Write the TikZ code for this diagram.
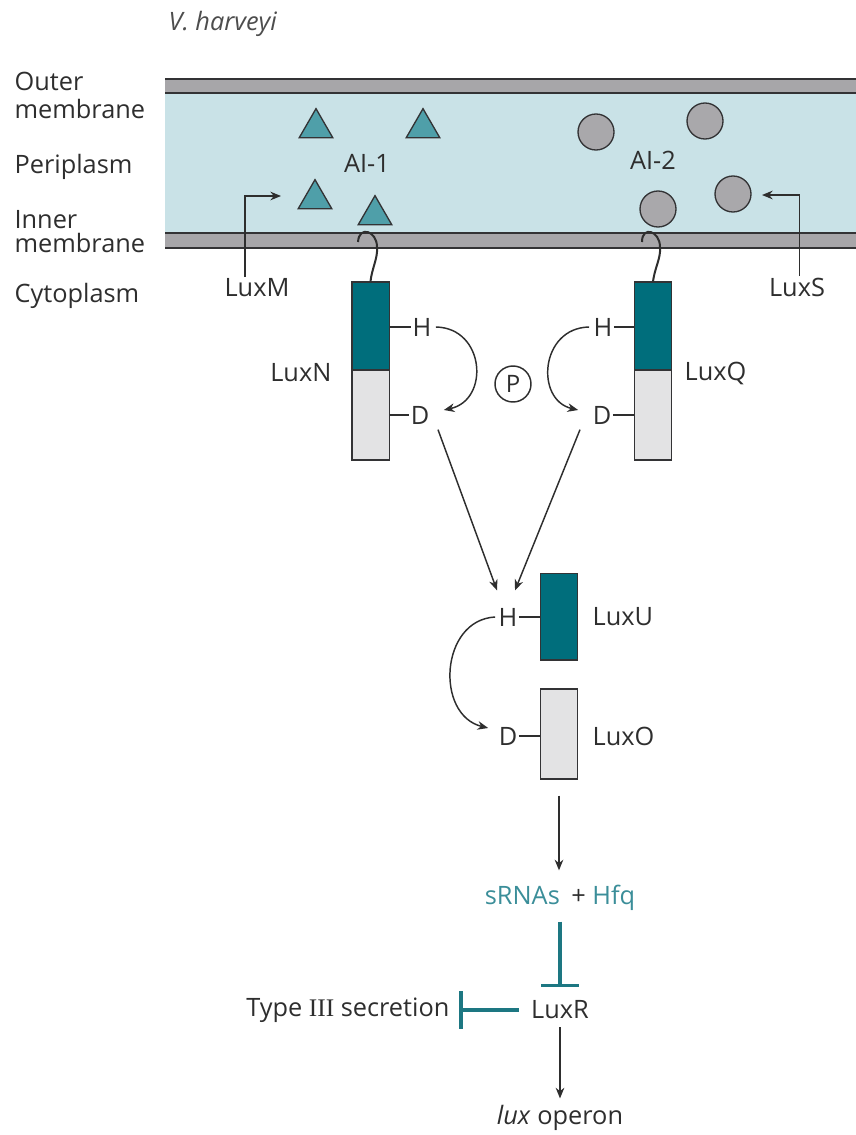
\documentclass[tikz,border=0pt]{standalone}
\usepackage{fontspec}
\setmainfont{Open Sans}
\newfontfamily\serifIII{Liberation Serif}
\usetikzlibrary{arrows.meta,shapes.geometric,calc}
\definecolor{memgray}{HTML}{A7A6A9}
\definecolor{memline}{HTML}{333335}
\definecolor{peri}{HTML}{C9E2E7}
\definecolor{tealbox}{HTML}{006E7C}
\definecolor{trifill}{HTML}{4F9FA9}
\definecolor{circfill}{HTML}{A9A8AB}
\definecolor{boxgray}{HTML}{E3E3E4}
\definecolor{tealtxt}{HTML}{3B8E99}
\definecolor{inhteal}{HTML}{1D7782}
\definecolor{txt}{HTML}{2E2E2E}
\begin{document}
\begin{tikzpicture}[x=0.75pt,y=-0.75pt,
  every node/.style={font=\fontsize{19}{23}\selectfont, text=txt, inner sep=1pt},
  twoline/.style={align=left, anchor=west, font=\fontsize{19}{#1}\selectfont},
  memband/.style={fill=memgray},
  memedge/.style={draw=memline, line width=1.7pt},
  ai1/.style={regular polygon, regular polygon sides=3, draw=memline, fill=trifill, line width=1pt, minimum size=29pt, inner sep=0pt},
  ai2/.style={circle, draw=memline, fill=circfill, line width=1pt, minimum size=27pt, inner sep=0pt},
  protbox/.style={draw=memline, line width=1pt, minimum width=28pt, inner sep=0pt},
  arr/.style={draw=txt, line width=1.1pt, -{Stealth[length=8pt,width=6.5pt]}},
  hookline/.style={draw=txt, line width=1.5pt},
  tick/.style={draw=txt, line width=1.1pt},
  inh/.style={draw=inhteal, line width=2.6pt, -{Bar[width=28pt,line width=2.8pt]}},
]
\useasboundingbox (0,0) rectangle (856,1135);

% membranes
\fill[peri] (165,93) rectangle (857,233);
\fill[memband] (165,79) rectangle (857,93);
\fill[memband] (165,233) rectangle (857,248);
\draw[memedge] (165,79) -- (857,79);
\draw[memedge] (165,93) -- (857,93);
\draw[memedge] (165,233) -- (857,233);
\draw[memedge] (165,248) -- (857,248);

% titles and compartment labels
\node[anchor=base west, font=\fontsize{19}{23}\selectfont\itshape, text=txt!85] (title) at (167,31) {V. harveyi};
\node[twoline=21] (outer) at (13,95) {Outer\\membrane};
\node[anchor=base west] (peril) at (13,173) {Periplasm};
\node[twoline=18] (inner) at (13,232) {Inner\\membrane};
\node[anchor=base west] (cyto) at (13,302) {Cytoplasm};

% AI-1 triangles
\node[ai1] (t1) at (316,128) {};
\node[ai1] (t2) at (423,128) {};
\node[ai1] (t3) at (315,199) {};
\node[ai1] (t4) at (375,215) {};
\node (ai1l) at (367,163) {AI-1};

% AI-2 circles
\node[ai2] (c1) at (596,132) {};
\node[ai2] (c2) at (705,121) {};
\node[ai2] (c3) at (733,194) {};
\node[ai2] (c4) at (658,209) {};
\node (ai2l) at (653,160) {AI-2};

% synthases
\node (luxM) at (257,288) {LuxM};
\node (luxS) at (797,287) {LuxS};
\coordinate (mEnd) at (281,196);
\coordinate (sEnd) at (762,195);
\draw[arr] ([xshift=-9pt]luxM.north) |- (mEnd);
\draw[arr] ([xshift=2pt]luxS.north) |- (sEnd);

% LuxN
\node[protbox, fill=tealbox, minimum height=66pt] (nT) at (370.5,326) {};
\node[protbox, fill=boxgray, minimum height=67.5pt] (nB) at (370.5,415) {};
\node[anchor=east] (luxN) at (333,373) {LuxN};
\node (nH) at (422,327) {H};
\node (nD) at (420,415) {D};
\draw[tick] (nT.east |- nH.west) -- (nH.west);
\draw[tick] (nB.east |- nD.west) -- (nD.west);
\draw[hookline] (nT.north) .. controls (372,268) and (378,258) .. (377,247) .. controls (377,231) and (359,225) .. (358,242);

% LuxQ
\node[protbox, fill=tealbox, minimum height=66pt] (qT) at (653,326) {};
\node[protbox, fill=boxgray, minimum height=67.5pt] (qB) at (653,415) {};
\node[anchor=west] (luxQ) at (683,373) {LuxQ};
\node (qH) at (603,327) {H};
\node (qD) at (602,415) {D};
\draw[tick] (qH.east) -- (qT.west |- qH.east);
\draw[tick] (qD.east) -- (qB.west |- qD.east);
\draw[hookline] (qT.north) .. controls (655,267) and (661,258) .. (660,247) .. controls (660,231) and (642,225) .. (642,242);

% phosphate
\node[circle, draw=txt, line width=1.1pt, minimum size=27pt, inner sep=0pt, font=\fontsize{18}{20}\selectfont] (P) at (513,384) {P};

% phosphotransfer arcs
\draw[arr] ($(nH.east)+(3,0)$) .. controls (485,328) and (490,400) .. ($(nD.east)+(13,-5)$);
\draw[arr] ($(qH.west)+(-3,0)$) .. controls (540,328) and (535,400) .. ($(qD.west)+(-13,-5)$);

% LuxU / LuxO
\node[protbox, fill=tealbox, minimum height=65pt] (uB) at (559,616.5) {};
\node[protbox, fill=boxgray, minimum height=67.5pt] (oB) at (559,734) {};
\node[anchor=west] (luxU) at (591,617) {LuxU};
\node[anchor=west] (luxO) at (591,736) {LuxO};
\node (uH) at (508,617) {H};
\node (uD) at (508,736) {D};
\draw[tick] (uH.east) -- (uB.west |- uH.east);
\draw[tick] (uD.east) -- (oB.west |- uD.east);

\draw[arr] ($(nD.south)+(18,4)$) -- ($(uH.north)+(-11,-16)$);
\draw[arr] ($(qD.south)+(-22,4)$) -- ($(uH.north)+(7,-16)$);
\draw[arr] ($(uH.west)+(-2,0)$) .. controls (440,620) and (435,715) .. ($(uD.west)+(-9,-8)$);

% regulation cascade
\node (srna) at (560,898) {\textcolor{tealtxt}{sRNAs}\hspace{0.45em}+ \textcolor{tealtxt}{Hfq}};
\node (luxR) at (560,1010) {LuxR};
\node[anchor=east] (t3s) at (451,1010) {Type {\serifIII III} secretion};
\node (lux) at (560,1118) {\textit{lux} operon};

\draw[arr, shorten <=12pt, shorten >=10pt] (oB.south) -- (oB.south |- srna.north);
\draw[inh, shorten <=7pt, shorten >=9pt] (srna.south -| luxR.north) -- (luxR.north);
\draw[inh, shorten <=8pt, shorten >=6pt] (luxR.west) -- (t3s.east);
\draw[arr, shorten <=5pt, shorten >=4pt] (luxR.south) -- (lux.north);
\end{tikzpicture}
\end{document}
